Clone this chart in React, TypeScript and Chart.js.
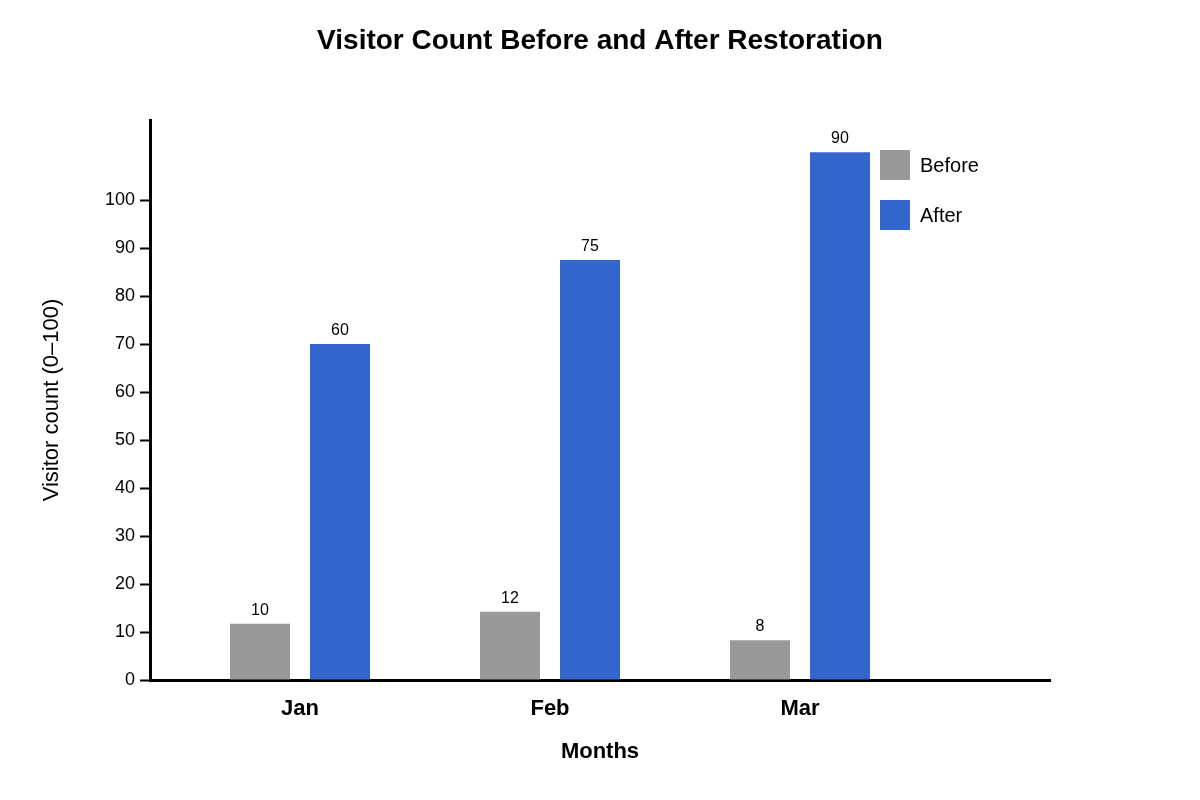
import { useEffect, useRef } from "react";
import { Chart, registerables } from "chart.js";

Chart.register(...registerables);

const FONT = "'Liberation Sans', Arial, Helvetica, sans-serif";

const TITLE = "Visitor Count Before and After Restoration";
const MONTHS = ["Jan", "Feb", "Mar"];
// bar heights as they sit against the y axis
const BEFORE = [11.7, 14.2, 8.3];
const AFTER = [70, 87.5, 110];
// numbers printed above the bars
const BEFORE_LABELS = [10, 12, 8];
const AFTER_LABELS = [60, 75, 90];
const SERIES_NAMES = ["Before", "After"];
const COLORS = ["#999999", "#3366CC"];
const Y_TICK_LAST = 100;
const Y_AXIS_TOP = 116.7;

const VALUE_LABELS = [BEFORE_LABELS, AFTER_LABELS];

// title centred on the whole canvas, not only on the plot
const pageTitle = {
  id: "pageTitle",
  afterDraw(chart: Chart) {
    const { ctx } = chart;
    ctx.save();
    ctx.font = `bold 28px ${FONT}`;
    ctx.fillStyle = "#000";
    ctx.textAlign = "center";
    ctx.textBaseline = "middle";
    ctx.fillText(TITLE, chart.width / 2, 41);
    ctx.restore();
  },
};

const barLabels = {
  id: "barLabels",
  afterDatasetsDraw(chart: Chart) {
    const { ctx } = chart;
    ctx.save();
    ctx.font = `16px ${FONT}`;
    ctx.fillStyle = "#000";
    ctx.textAlign = "center";
    ctx.textBaseline = "alphabetic";
    chart.data.datasets.forEach((_, di) => {
      chart.getDatasetMeta(di).data.forEach((bar: any, i) => {
        ctx.fillText(String(VALUE_LABELS[di][i]), bar.x, bar.y - 9);
      });
    });
    ctx.restore();
  },
};

const boxLegend = {
  id: "boxLegend",
  afterDraw(chart: Chart) {
    const { ctx, chartArea } = chart;
    const left = chartArea.right - 170;
    const top = chartArea.top + 30;
    ctx.save();
    ctx.font = `20px ${FONT}`;
    ctx.textAlign = "left";
    ctx.textBaseline = "middle";
    chart.data.datasets.forEach((ds, i) => {
      const y = top + i * 50;
      ctx.fillStyle = ds.backgroundColor as string;
      ctx.fillRect(left, y, 30, 30);
      ctx.fillStyle = "#000";
      ctx.fillText(ds.label as string, left + 40, y + 16);
    });
    ctx.restore();
  },
};

export default function App() {
  const canvasRef = useRef<HTMLCanvasElement>(null);
  const chartRef = useRef<Chart | null>(null);

  useEffect(() => {
    document.body.style.margin = "0";
    if (!canvasRef.current) return;
    if (chartRef.current) chartRef.current.destroy();

    chartRef.current = new Chart(canvasRef.current, {
      type: "bar",
      data: {
        datasets: [BEFORE, AFTER].map((values, di) => ({
          label: SERIES_NAMES[di],
          data: values.map((v, i) => ({ x: i, y: v })),
          backgroundColor: COLORS[di],
          borderWidth: 0,
          categoryPercentage: 0.64,
          barPercentage: 0.75,
        })),
      },
      options: {
        animation: false,
        responsive: true,
        maintainAspectRatio: false,
        layout: { padding: { left: 0, right: 150, top: 120, bottom: 0 } },
        plugins: {
          legend: { display: false },
          tooltip: { enabled: false },
          title: { display: false },
        },
        scales: {
          x: {
            type: "linear",
            offset: false,
            bounds: "data",
            min: -0.6,
            max: 3,
            afterBuildTicks: (axis: any) => {
              axis.ticks = MONTHS.map((_, i) => ({ value: i }));
            },
            afterFit: (axis: any) => {
              axis.height = 120;
            },
            ticks: {
              autoSkip: false,
              color: "#000",
              padding: 16,
              font: { family: FONT, size: 22, weight: "bold" },
              callback: (value: any) => MONTHS[value as number] ?? "",
            },
            grid: { display: false, drawTicks: false, offset: false },
            border: { display: true, color: "#000", width: 3 },
            title: {
              display: true,
              text: "Months",
              color: "#000",
              font: { family: FONT, size: 22, weight: "bold" },
              padding: { top: 0, bottom: 35 },
            },
          },
          y: {
            min: 0,
            max: Y_AXIS_TOP,
            afterBuildTicks: (axis: any) => {
              axis.ticks = axis.ticks.filter((t: any) => t.value <= Y_TICK_LAST);
            },
            afterFit: (axis: any) => {
              axis.width = 150;
            },
            ticks: {
              stepSize: 10,
              color: "#000",
              padding: 5,
              font: { family: FONT, size: 18 },
            },
            grid: {
              display: true,
              drawOnChartArea: false,
              drawTicks: true,
              tickLength: 10,
              tickWidth: 2,
              tickColor: "#000",
              color: "#000",
            },
            border: { display: true, color: "#000", width: 3 },
            title: {
              display: true,
              text: "Visitor count (0–100)",
              color: "#000",
              font: { family: FONT, size: 22 },
              padding: { top: 39, bottom: 0 },
            },
          },
        },
      },
      plugins: [pageTitle, barLabels, boxLegend],
    });

    return () => {
      if (chartRef.current) {
        chartRef.current.destroy();
        chartRef.current = null;
      }
    };
  }, []);

  return (
    <div style={{ position: "relative", width: 1200, height: 800 }}>
      <canvas ref={canvasRef}></canvas>
    </div>
  );
}
